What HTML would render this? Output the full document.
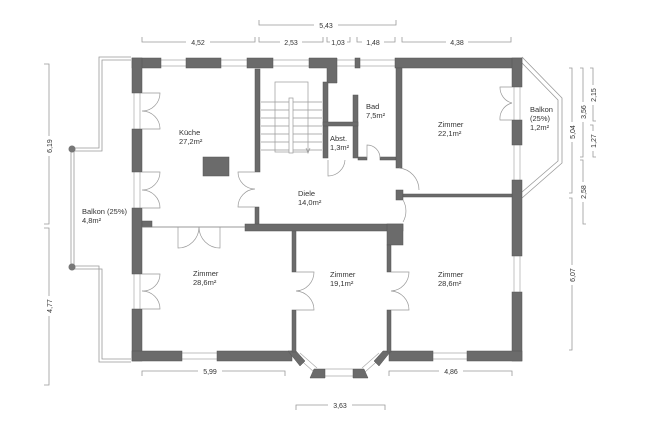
<!DOCTYPE html>
<html><head><meta charset="utf-8"><style>
html,body{margin:0;padding:0;background:#fff;}
svg{display:block;}
text{font-family:"Liberation Sans",sans-serif;fill:#333;}
.dim{font-size:7px;fill:#555;}
.lab{font-size:7.5px;}
</style></head><body>
<svg width="646" height="430" viewBox="0 0 646 430" xmlns="http://www.w3.org/2000/svg">
<rect width="646" height="430" fill="#fff"/>
<g stroke="#999" stroke-width="0.8" fill="none">
<path d="M259,20V25H396V20"/>
<path d="M142,37V42H255V37 M259,37V42H323V37 M327,37V42H350V37 M357,37V42H395V37 M402,37V42H511V37"/>
<path d="M44,64H49V224H44 M44,228H49V385H44"/>
<path d="M569,68H572V193H569 M569,198H572V350H569"/>
<path d="M580,68H583V157H580 M580,160H583V224H586"/>
<path d="M590,68H593V121H596 M590,125H593V157H596"/>
<path d="M142,376V371H285V376 M389,376V371H512V376 M296,410V405H385V410"/>
</g>
<g class="dim" text-anchor="middle">
<rect x="314" y="20" width="24" height="9" fill="#fff"/><text x="326" y="28">5,43</text>
<rect x="186" y="38" width="24" height="9" fill="#fff"/><text x="198" y="45">4,52</text>
<rect x="280" y="38" width="22" height="9" fill="#fff"/><text x="291" y="45">2,53</text>
<rect x="330" y="38" width="17" height="9" fill="#fff"/><text x="338" y="45">1,03</text>
<rect x="362" y="38" width="22" height="9" fill="#fff"/><text x="373" y="45">1,48</text>
<rect x="446" y="38" width="22" height="9" fill="#fff"/><text x="457" y="45">4,38</text>
<rect x="198" y="367" width="24" height="9" fill="#fff"/><text x="210" y="374">5,99</text>
<rect x="439" y="367" width="24" height="9" fill="#fff"/><text x="451" y="374">4,86</text>
<rect x="328" y="401" width="24" height="9" fill="#fff"/><text x="340" y="408">3,63</text>
<g transform="translate(52,146) rotate(-90)"><rect x="-10" y="-7" width="20" height="9" fill="#fff"/><text>6,19</text></g>
<g transform="translate(52,306) rotate(-90)"><rect x="-10" y="-7" width="20" height="9" fill="#fff"/><text>4,77</text></g>
<g transform="translate(575,132) rotate(-90)"><rect x="-10" y="-7" width="20" height="9" fill="#fff"/><text>5,04</text></g>
<g transform="translate(575,275) rotate(-90)"><rect x="-10" y="-7" width="20" height="9" fill="#fff"/><text>6,07</text></g>
<g transform="translate(586,112) rotate(-90)"><rect x="-10" y="-7" width="20" height="9" fill="#fff"/><text>3,56</text></g>
<g transform="translate(586,192) rotate(-90)"><rect x="-10" y="-7" width="20" height="9" fill="#fff"/><text>2,58</text></g>
<g transform="translate(596,95) rotate(-90)"><rect x="-10" y="-7" width="20" height="9" fill="#fff"/><text>2,15</text></g>
<g transform="translate(596,141) rotate(-90)"><rect x="-10" y="-7" width="20" height="9" fill="#fff"/><text>1,27</text></g>
</g>
<g stroke="#999" stroke-width="0.8" fill="none">
<path d="M131,57H99V148H72 M131,60H102V151H74"/>
<path d="M131,362H99V266H72 M131,359H102V269H74"/>
<path d="M71,150V266 M74,150V266"/>
<path d="M522,57L562,98V163L522,198 M522,63L558,100V161L522,192"/>
</g>
<circle cx="72" cy="149" r="3.5" fill="#777"/>
<circle cx="72" cy="267" r="3.5" fill="#777"/>
<g stroke="#aaa" stroke-width="0.7" fill="none">
<path d="M161,60H186M161,66H186 M221,60H247M221,66H247 M273,60H309M273,66H309 M337,60H355M337,66H355 M360,60H395M360,66H395"/>
<path d="M134,93V129M140,93V129 M134,172V208M140,172V208 M134,274V309M140,274V309"/>
<path d="M514,87V120M520,87V120 M514,145V180M520,145V180 M514,256V292M520,256V292"/>
<path d="M182,353H217M182,359H217 M433,353H467M433,359H467 M325,369H353M325,376H353"/>
<path d="M296,356L314,372 M300,353L317,368 M383,356L365,372 M379,353L362,368"/>
</g>
<g fill="#6b6b6b" stroke="#555" stroke-width="0.5">
<rect x="132" y="58" width="29" height="10"/>
<rect x="186" y="58" width="35" height="10"/>
<rect x="247" y="58" width="26" height="10"/>
<path d="M309,58H337V83H327V68H309Z"/>
<rect x="355" y="58" width="5" height="10"/>
<rect x="395" y="58" width="127" height="10"/>
<rect x="132" y="58" width="10" height="35"/>
<rect x="132" y="129" width="10" height="43"/>
<rect x="132" y="208" width="10" height="66"/>
<rect x="142" y="221" width="10" height="6"/>
<rect x="132" y="309" width="10" height="52"/>
<rect x="132" y="351" width="50" height="10"/>
<rect x="217" y="351" width="75" height="10"/>
<rect x="512" y="58" width="10" height="29"/>
<rect x="512" y="120" width="10" height="25"/>
<rect x="512" y="180" width="10" height="76"/>
<rect x="512" y="292" width="10" height="69"/>
<rect x="389" y="351" width="44" height="10"/>
<rect x="467" y="351" width="55" height="10"/>
<path d="M288,351H296L305,361L300,366Z"/>
<path d="M391,351H383L374,361L379,366Z"/>
<path d="M314,369H325V378H310Z"/>
<path d="M353,369H364L368,378H353Z"/>
<rect x="255" y="69" width="5" height="103"/>
<rect x="255" y="207" width="4" height="18"/>
<rect x="245" y="224" width="158" height="7"/>
<rect x="387" y="224" width="16" height="21"/>
<rect x="292" y="231" width="4" height="41"/>
<rect x="292" y="310" width="4" height="42"/>
<rect x="387" y="245" width="4" height="27"/>
<rect x="387" y="310" width="4" height="42"/>
<rect x="323" y="82" width="5" height="76"/>
<rect x="353" y="95" width="5" height="63"/>
<rect x="323" y="122" width="35" height="4"/>
<rect x="358" y="157" width="9" height="3"/>
<rect x="380" y="157" width="16" height="3"/>
<rect x="396" y="68" width="6" height="100"/>
<rect x="396" y="190" width="7" height="10"/>
<rect x="403" y="194" width="109" height="3"/>
<rect x="203" y="157" width="26" height="19"/>
</g>
<line x1="142" y1="227" x2="245" y2="227" stroke="#777" stroke-width="0.8"/>
<g stroke="#999" stroke-width="0.7" fill="none">
<rect x="275" y="82" width="33" height="70"/>
<path d="M261,102H322M261,110H322M261,118H322M261,126H322M261,134H322M261,142H322M261,150H322"/>
<rect x="289" y="98" width="4" height="55" fill="#fff"/>
<path d="M306,148L308,153L310,148"/>
</g>
<g stroke="#999" stroke-width="0.7" fill="none">
<path d="M142,93H160 A18,18 0 0 1 142,111 M142,129H160 A18,18 0 0 0 142,111"/>
<path d="M142,172H160 A18,18 0 0 1 142,190 M142,208H160 A18,18 0 0 0 142,190"/>
<path d="M142,274H160 A17,17 0 0 1 142,291 M142,309H160 A18,18 0 0 0 142,291"/>
<path d="M255,172H238 A17,17 0 0 0 255,189 M255,207H238 A18,18 0 0 1 255,189"/>
<path d="M178,227V248 A21,21 0 0 0 199,227 M220,227V248 A21,21 0 0 1 199,227"/>
<path d="M296,272H314 A19,19 0 0 1 296,291 M296,310H314 A19,19 0 0 0 296,291"/>
<path d="M391,272H409 A19,19 0 0 1 391,291 M391,310H409 A19,19 0 0 0 391,291"/>
<path d="M512,87H500 A16,16 0 0 0 512,103 M512,120H500 A16,16 0 0 1 512,103"/>
<path d="M328,160V176 A17,17 0 0 0 345,160"/>
<path d="M367,158V145 A13,13 0 0 1 380,158"/>
<path d="M399,168A22,22 0 0 1 419,190 M403,200A22,22 0 0 1 403,222"/>
</g>
<g class="lab">
<text x="179" y="135">Küche</text><text x="179" y="144">27,2m²</text>
<text x="366" y="109">Bad</text><text x="366" y="118">7,5m²</text>
<text x="330" y="141">Abst.</text><text x="330" y="150">1,3m²</text>
<text x="298" y="196">Diele</text><text x="298" y="205">14,0m²</text>
<text x="438" y="127">Zimmer</text><text x="438" y="136">22,1m²</text>
<text x="530" y="112">Balkon</text><text x="530" y="121">(25%)</text><text x="530" y="130">1,2m²</text>
<text x="82" y="214">Balkon (25%)</text><text x="82" y="223">4,8m²</text>
<text x="193" y="276">Zimmer</text><text x="193" y="285">28,6m²</text>
<text x="330" y="277">Zimmer</text><text x="330" y="286">19,1m²</text>
<text x="438" y="277">Zimmer</text><text x="438" y="286">28,6m²</text>
</g>
</svg>
</body></html>
